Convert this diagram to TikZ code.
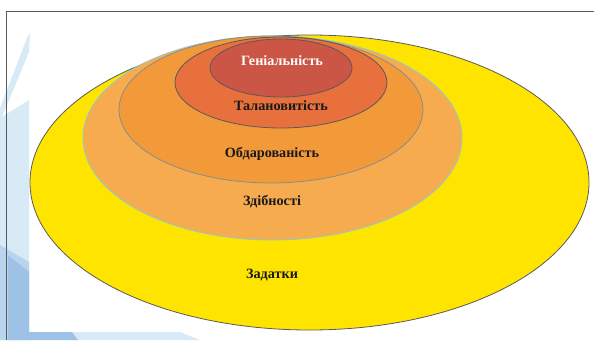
\documentclass[tikz,border=0pt]{standalone}
\usepackage{fontspec}
\setmainfont{Liberation Serif}
\newfontfamily\lblfont{Liberation Serif}
\usetikzlibrary{shapes.geometric}
\definecolor{cZad}{HTML}{FFE400}
\definecolor{cZdib}{HTML}{F6AC4E}
\definecolor{cObd}{HTML}{F29A3A}
\definecolor{cTal}{HTML}{E8703C}
\definecolor{cGen}{HTML}{CB5646}
\definecolor{cEdge}{HTML}{5A5A5A}
\definecolor{cCyan}{HTML}{8FC9D2}
\definecolor{bgLight}{HTML}{D9EAF7}
\definecolor{bgMid}{HTML}{B9D5EE}
\definecolor{bgDark}{HTML}{9EC2E6}
\tikzset{
  level/.style={ellipse, draw=cEdge, line width=0.8pt, inner sep=0pt, outer sep=0pt},
  lbl/.style={font=\lblfont\bfseries\fontsize{14.2}{16}\selectfont, text=black!90, inner sep=0pt},
}
\begin{document}
\begin{tikzpicture}[x=1pt,y=-1pt]
\useasboundingbox (0,0) rectangle (594,340);
% background decoration
\fill[bgLight] (0,118) -- (29,100) -- (29,340) -- (0,340) -- cycle;
\fill[bgLight] (0,108) -- (27,38) -- (30,33) -- (29,52) -- (0,122) -- cycle;
\fill[bgMid] (0,245) -- (29,262) -- (29,340) -- (0,340) -- cycle;
\fill[bgDark] (8,255) -- (29,272) -- (29,340) -- (8,340) -- cycle;
\fill[bgLight] (29,332) -- (180,332) -- (200,340) -- (29,340) -- cycle;
\fill[bgDark] (29,332) -- (72,332) -- (78,340) -- (29,340) -- cycle;
% frame
\draw[cEdge, line width=1pt] (6.5,340) -- (6.5,11) -- (594,11);
% nested ellipses
\node[level, fill=cZad, minimum width=559pt, minimum height=295pt] (zad) at (309.5,182.5) {};
\node[level, fill=cZdib, draw=cCyan, minimum width=379pt, minimum height=204pt] (zdib) at (272.5,138) {};
\node[level, fill=cObd, draw=cEdge!70, minimum width=304pt, minimum height=147pt] (obd) at (271,109.5) {};
\node[level, fill=cTal, minimum width=212pt, minimum height=91pt] (tal) at (281,82.5) {};
\node[level, fill=cGen, minimum width=142pt, minimum height=58pt] (gen) at (281,68) {};
% labels
\node[lbl, text=white] (tGen) at (282,61) {Геніальність};
\node[lbl] (tTal) at (281,106) {Талановитість};
\node[lbl] (tObd) at (272,154) {Обдарованість};
\node[lbl] (tZdib) at (272,202) {Здібності};
\node[lbl] (tZad) at (272,275) {Задатки};
\end{tikzpicture}
\end{document}
